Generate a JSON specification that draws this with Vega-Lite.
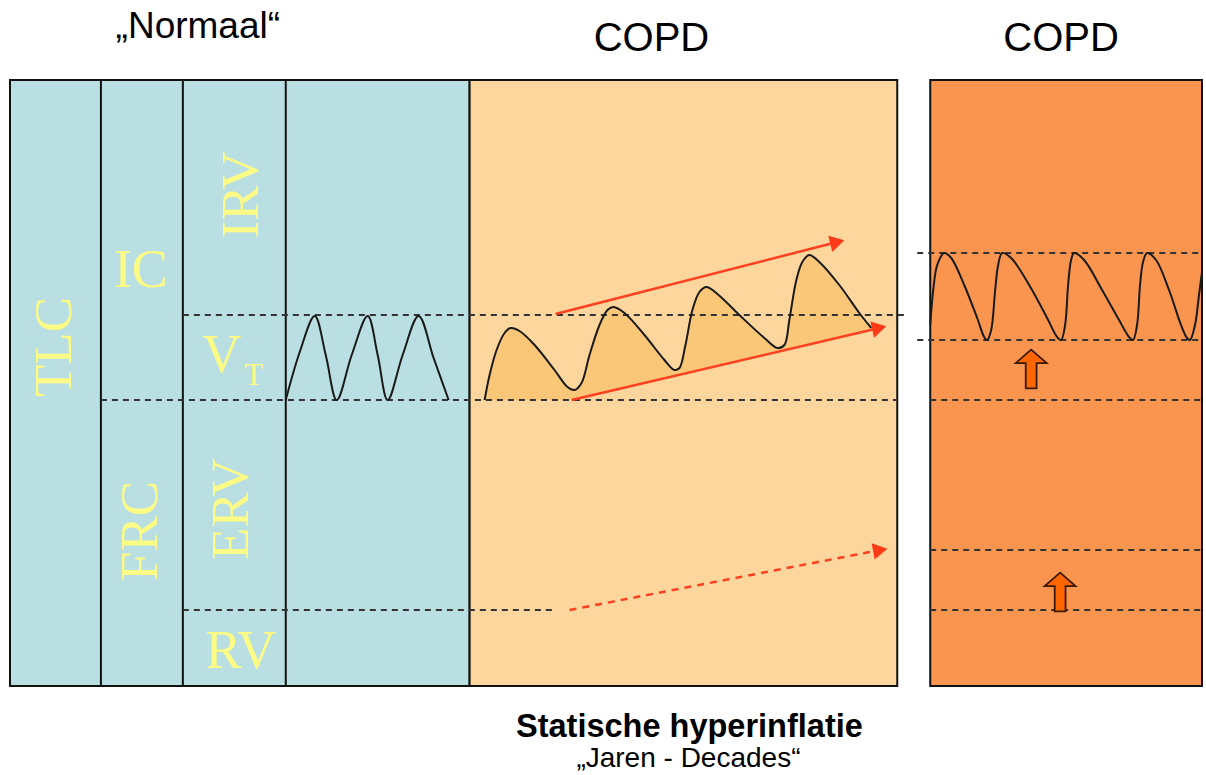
{
  "$schema": "https://vega.github.io/schema/vega-lite/v6.json",
  "width": 1206,
  "height": 775,
  "autosize": {"type": "fit", "contains": "padding"},
  "padding": 0,
  "background": "white",
  "config": {"view": {"stroke": null}},
  "datasets": {
    "panels": [
      {"p": "normaal", "x": 10, "x2": 470, "y": 80, "y2": 686},
      {"p": "copd1", "x": 470, "x2": 898, "y": 80, "y2": 686},
      {"p": "copd2", "x": 931, "x2": 1203, "y": 80, "y2": 686}
    ],
    "vlines": [
      {"x": 101, "y": 80, "y2": 686},
      {"x": 183, "y": 80, "y2": 686},
      {"x": 286, "y": 80, "y2": 686}
    ],
    "dashed": [
      {"x": 183, "x2": 905, "y": 315},
      {"x": 101, "x2": 898, "y": 400},
      {"x": 183, "x2": 555, "y": 610},
      {"x": 918, "x2": 1203, "y": 253},
      {"x": 918, "x2": 1203, "y": 340},
      {"x": 931, "x2": 1203, "y": 400},
      {"x": 931, "x2": 1203, "y": 550},
      {"x": 931, "x2": 1203, "y": 610}
    ],
    "waves": [
      {"s": "normaal", "x": 286, "y": 400, "b": 400},
      {"s": "normaal", "x": 300, "y": 352, "b": 400},
      {"s": "normaal", "x": 315, "y": 316, "b": 400},
      {"s": "normaal", "x": 326, "y": 355, "b": 400},
      {"s": "normaal", "x": 337, "y": 400, "b": 400},
      {"s": "normaal", "x": 352, "y": 355, "b": 400},
      {"s": "normaal", "x": 368, "y": 316, "b": 400},
      {"s": "normaal", "x": 378, "y": 355, "b": 400},
      {"s": "normaal", "x": 388, "y": 400, "b": 400},
      {"s": "normaal", "x": 403, "y": 355, "b": 400},
      {"s": "normaal", "x": 419, "y": 316, "b": 400},
      {"s": "normaal", "x": 434, "y": 358, "b": 400},
      {"s": "normaal", "x": 449, "y": 400, "b": 400},
      {"s": "copd", "x": 485, "y": 400, "b": 400},
      {"s": "copd", "x": 490, "y": 375, "b": 400},
      {"s": "copd", "x": 497, "y": 350, "b": 400},
      {"s": "copd", "x": 505, "y": 333, "b": 400},
      {"s": "copd", "x": 511, "y": 328, "b": 400},
      {"s": "copd", "x": 520, "y": 331, "b": 400},
      {"s": "copd", "x": 535, "y": 345, "b": 400},
      {"s": "copd", "x": 555, "y": 370, "b": 400},
      {"s": "copd", "x": 568, "y": 387, "b": 400},
      {"s": "copd", "x": 575, "y": 390, "b": 399},
      {"s": "copd", "x": 582, "y": 383, "b": 398},
      {"s": "copd", "x": 590, "y": 355, "b": 396},
      {"s": "copd", "x": 600, "y": 325, "b": 393},
      {"s": "copd", "x": 608, "y": 310, "b": 391},
      {"s": "copd", "x": 614, "y": 307, "b": 390},
      {"s": "copd", "x": 625, "y": 313, "b": 387},
      {"s": "copd", "x": 645, "y": 335, "b": 383},
      {"s": "copd", "x": 665, "y": 360, "b": 378},
      {"s": "copd", "x": 675, "y": 370, "b": 376},
      {"s": "copd", "x": 680, "y": 368, "b": 375},
      {"s": "copd", "x": 686, "y": 345, "b": 373},
      {"s": "copd", "x": 693, "y": 310, "b": 372},
      {"s": "copd", "x": 700, "y": 292, "b": 370},
      {"s": "copd", "x": 707, "y": 287, "b": 368},
      {"s": "copd", "x": 718, "y": 294, "b": 366},
      {"s": "copd", "x": 740, "y": 315, "b": 361},
      {"s": "copd", "x": 765, "y": 338, "b": 355},
      {"s": "copd", "x": 778, "y": 348, "b": 352},
      {"s": "copd", "x": 785, "y": 345, "b": 350},
      {"s": "copd", "x": 790, "y": 320, "b": 349},
      {"s": "copd", "x": 797, "y": 280, "b": 348},
      {"s": "copd", "x": 803, "y": 262, "b": 346},
      {"s": "copd", "x": 810, "y": 255, "b": 345},
      {"s": "copd", "x": 820, "y": 262, "b": 342},
      {"s": "copd", "x": 840, "y": 285, "b": 338},
      {"s": "copd", "x": 860, "y": 313, "b": 333},
      {"s": "copd", "x": 872, "y": 328, "b": 330},
      {"s": "copd2", "x": 931, "y": 325, "b": 340},
      {"s": "copd2", "x": 934, "y": 290, "b": 340},
      {"s": "copd2", "x": 938, "y": 265, "b": 340},
      {"s": "copd2", "x": 945, "y": 253, "b": 340},
      {"s": "copd2", "x": 952, "y": 258, "b": 340},
      {"s": "copd2", "x": 965, "y": 285, "b": 340},
      {"s": "copd2", "x": 978, "y": 318, "b": 340},
      {"s": "copd2", "x": 985, "y": 337, "b": 340},
      {"s": "copd2", "x": 988, "y": 340, "b": 340},
      {"s": "copd2", "x": 992, "y": 330, "b": 340},
      {"s": "copd2", "x": 996, "y": 290, "b": 340},
      {"s": "copd2", "x": 999, "y": 265, "b": 340},
      {"s": "copd2", "x": 1003, "y": 253, "b": 340},
      {"s": "copd2", "x": 1012, "y": 258, "b": 340},
      {"s": "copd2", "x": 1030, "y": 285, "b": 340},
      {"s": "copd2", "x": 1048, "y": 318, "b": 340},
      {"s": "copd2", "x": 1058, "y": 337, "b": 340},
      {"s": "copd2", "x": 1062, "y": 340, "b": 340},
      {"s": "copd2", "x": 1066, "y": 325, "b": 340},
      {"s": "copd2", "x": 1069, "y": 285, "b": 340},
      {"s": "copd2", "x": 1072, "y": 260, "b": 340},
      {"s": "copd2", "x": 1075, "y": 253, "b": 340},
      {"s": "copd2", "x": 1085, "y": 260, "b": 340},
      {"s": "copd2", "x": 1103, "y": 290, "b": 340},
      {"s": "copd2", "x": 1120, "y": 320, "b": 340},
      {"s": "copd2", "x": 1130, "y": 337, "b": 340},
      {"s": "copd2", "x": 1134, "y": 340, "b": 340},
      {"s": "copd2", "x": 1138, "y": 325, "b": 340},
      {"s": "copd2", "x": 1141, "y": 285, "b": 340},
      {"s": "copd2", "x": 1144, "y": 262, "b": 340},
      {"s": "copd2", "x": 1148, "y": 253, "b": 340},
      {"s": "copd2", "x": 1157, "y": 260, "b": 340},
      {"s": "copd2", "x": 1170, "y": 290, "b": 340},
      {"s": "copd2", "x": 1182, "y": 325, "b": 340},
      {"s": "copd2", "x": 1188, "y": 338, "b": 340},
      {"s": "copd2", "x": 1191, "y": 340, "b": 340},
      {"s": "copd2", "x": 1196, "y": 325, "b": 340},
      {"s": "copd2", "x": 1200, "y": 295, "b": 340},
      {"s": "copd2", "x": 1203, "y": 272, "b": 340}
    ],
    "arrows": [
      {"a": "upper", "kind": "solid", "x": 556, "y": 314, "x2": 838, "y2": 242},
      {"a": "lower", "kind": "solid", "x": 572, "y": 400, "x2": 880, "y2": 328},
      {"a": "frc", "kind": "dashed", "x": 570, "y": 610, "x2": 881, "y2": 550}
    ],
    "blocks": [
      {"b": "vt", "x": 1032, "y": 369},
      {"b": "rv", "x": 1061, "y": 592}
    ],
    "vlabels": [
      {"t": "TLC", "x": 55, "y": 347},
      {"t": "IRV", "x": 242, "y": 195},
      {"t": "ERV", "x": 232, "y": 509},
      {"t": "FRC", "x": 141, "y": 531}
    ],
    "hlabels": [
      {"t": "IC", "x": 141, "y": 271},
      {"t": "RV", "x": 241, "y": 652},
      {"t": "V", "x": 222, "y": 356}
    ],
    "titles": [
      {"t": "„Normaal“", "x": 198, "y": 27, "f": 37},
      {"t": "COPD", "x": 652, "y": 39, "f": 40},
      {"t": "COPD", "x": 1062, "y": 39, "f": 40}
    ]
  },
  "layer": [
    {
      "data": {"name": "panels"},
      "mark": {"type": "rect", "stroke": "#111111", "strokeWidth": 2},
      "encoding": {
        "x": {"field": "x", "type": "quantitative", "scale": {"domain": [0, 1206], "nice": false, "zero": false}, "axis": null},
        "x2": {"field": "x2"},
        "y": {"field": "y", "type": "quantitative", "scale": {"domain": [0, 775], "nice": false, "zero": false, "reverse": true}, "axis": null},
        "y2": {"field": "y2"},
        "fill": {"field": "p", "type": "nominal", "scale": {"domain": ["normaal", "copd1", "copd2"], "range": ["#b9dfe2", "#fcd69c", "#f9954e"]}, "legend": null}
      }
    },
    {
      "data": {"name": "waves"},
      "transform": [{"filter": "datum.s === 'copd'"}],
      "mark": {"type": "area", "interpolate": "catmull-rom", "color": "#f8bc5c", "opacity": 0.55},
      "encoding": {
        "x": {"field": "x", "type": "quantitative"},
        "y": {"field": "y", "type": "quantitative"},
        "y2": {"field": "b"}
      }
    },
    {
      "data": {"name": "vlines"},
      "mark": {"type": "rule", "color": "#111111", "strokeWidth": 2},
      "encoding": {
        "x": {"field": "x", "type": "quantitative"},
        "y": {"field": "y", "type": "quantitative"},
        "y2": {"field": "y2"}
      }
    },
    {
      "data": {"name": "dashed"},
      "mark": {"type": "rule", "color": "#333333", "strokeWidth": 2, "strokeDash": [6, 5]},
      "encoding": {
        "x": {"field": "x", "type": "quantitative"},
        "x2": {"field": "x2"},
        "y": {"field": "y", "type": "quantitative"}
      }
    },
    {
      "data": {"name": "waves"},
      "mark": {"type": "line", "interpolate": "catmull-rom", "color": "#1a1a1a", "strokeWidth": 2},
      "encoding": {
        "x": {"field": "x", "type": "quantitative"},
        "y": {"field": "y", "type": "quantitative"},
        "detail": {"field": "s", "type": "nominal"}
      }
    },
    {
      "data": {"name": "arrows"},
      "transform": [{"filter": "datum.kind === 'solid'"}],
      "mark": {"type": "rule", "color": "#ff4020", "strokeWidth": 2.5},
      "encoding": {
        "x": {"field": "x", "type": "quantitative"},
        "x2": {"field": "x2"},
        "y": {"field": "y", "type": "quantitative"},
        "y2": {"field": "y2"}
      }
    },
    {
      "data": {"name": "arrows"},
      "transform": [{"filter": "datum.kind === 'dashed'"}],
      "mark": {"type": "rule", "color": "#ff4020", "strokeWidth": 2.5, "strokeDash": [7, 6]},
      "encoding": {
        "x": {"field": "x", "type": "quantitative"},
        "x2": {"field": "x2"},
        "y": {"field": "y", "type": "quantitative"},
        "y2": {"field": "y2"}
      }
    },
    {
      "data": {"name": "arrows"},
      "transform": [{"calculate": "atan2(datum.y2 - datum.y, datum.x2 - datum.x) * 180 / PI", "as": "ang"}],
      "mark": {"type": "point", "shape": "triangle-right", "filled": true, "color": "#ff3a18", "size": 280, "opacity": 1},
      "encoding": {
        "x": {"field": "x2", "type": "quantitative"},
        "y": {"field": "y2", "type": "quantitative"},
        "angle": {"field": "ang", "type": "quantitative", "scale": null}
      }
    },
    {
      "data": {"name": "blocks"},
      "mark": {"type": "point", "shape": "M -0.28 1 L -0.28 -0.3 L -0.8 -0.3 L 0 -1 L 0.8 -0.3 L 0.28 -0.3 L 0.28 1 Z", "filled": true, "fill": "#ff6600", "stroke": "#3a1a00", "strokeWidth": 1.8, "size": 1500, "opacity": 1},
      "encoding": {
        "x": {"field": "x", "type": "quantitative"},
        "y": {"field": "y", "type": "quantitative"}
      }
    },
    {
      "data": {"name": "vlabels"},
      "mark": {"type": "text", "font": "Liberation Serif", "fontSize": 53, "color": "#fbfb86", "angle": 270, "align": "center", "baseline": "middle"},
      "encoding": {
        "x": {"field": "x", "type": "quantitative"},
        "y": {"field": "y", "type": "quantitative"},
        "text": {"field": "t"}
      }
    },
    {
      "data": {"name": "hlabels"},
      "mark": {"type": "text", "font": "Liberation Serif", "fontSize": 54, "color": "#fbfb86", "align": "center", "baseline": "middle"},
      "encoding": {
        "x": {"field": "x", "type": "quantitative"},
        "y": {"field": "y", "type": "quantitative"},
        "text": {"field": "t"}
      }
    },
    {
      "data": {"values": [{"t": "T", "x": 254, "y": 376}]},
      "mark": {"type": "text", "font": "Liberation Serif", "fontSize": 31, "color": "#fbfb86", "align": "center", "baseline": "middle"},
      "encoding": {
        "x": {"field": "x", "type": "quantitative"},
        "y": {"field": "y", "type": "quantitative"},
        "text": {"field": "t"}
      }
    },
    {
      "data": {"name": "titles"},
      "mark": {"type": "text", "font": "Liberation Sans", "color": "#000000", "align": "center", "baseline": "middle"},
      "encoding": {
        "x": {"field": "x", "type": "quantitative"},
        "y": {"field": "y", "type": "quantitative"},
        "text": {"field": "t"},
        "size": {"field": "f", "type": "quantitative", "scale": null}
      }
    },
    {
      "data": {"values": [{"t": "Statische hyperinflatie", "x": 690, "y": 727}]},
      "mark": {"type": "text", "font": "Liberation Sans", "fontSize": 32.5, "fontWeight": "bold", "color": "#000000", "align": "center", "baseline": "middle"},
      "encoding": {
        "x": {"field": "x", "type": "quantitative"},
        "y": {"field": "y", "type": "quantitative"},
        "text": {"field": "t"}
      }
    },
    {
      "data": {"values": [{"t": "„Jaren - Decades“", "x": 689, "y": 759}]},
      "mark": {"type": "text", "font": "Liberation Sans", "fontSize": 28, "color": "#000000", "align": "center", "baseline": "middle"},
      "encoding": {
        "x": {"field": "x", "type": "quantitative"},
        "y": {"field": "y", "type": "quantitative"},
        "text": {"field": "t"}
      }
    }
  ]
}
